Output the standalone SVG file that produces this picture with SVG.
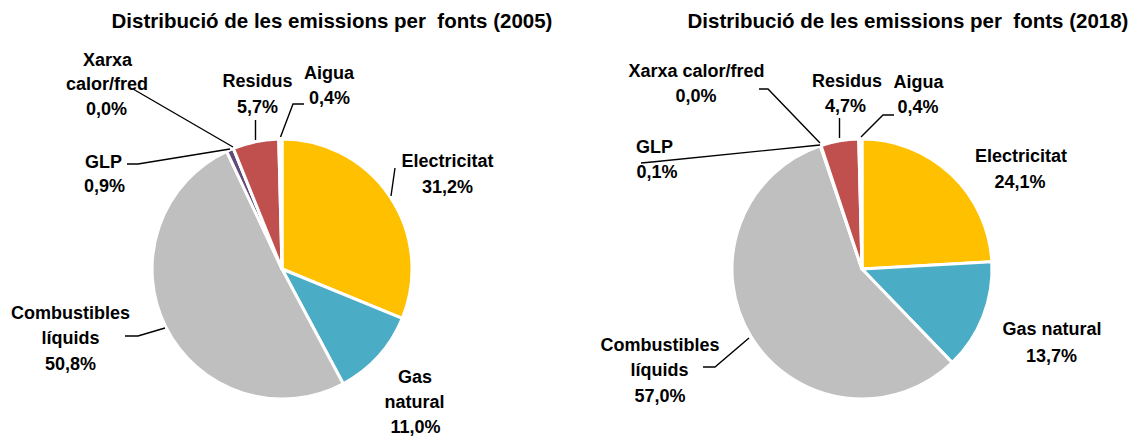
<svg xmlns="http://www.w3.org/2000/svg" width="1139" height="439" viewBox="0 0 1139 439">
  <style>
    text { font-family: "Liberation Sans", Arial, sans-serif; font-weight: bold; fill: #000; text-anchor: middle; }
    .title { font-size: 20.5px; white-space: pre; }
    .lbl { font-size: 18px; }
    .slice { stroke: #fff; stroke-width: 3; stroke-linejoin: round; }
    .elec { fill: #FFC000; }
    .gas { fill: #4BACC6; }
    .comb { fill: #BFBFBF; }
    .glp { fill: #604A7B; }
    .res { fill: #C0504D; }
    .aig { fill: #F2F2F2; }
    .leader { fill: none; stroke: #000; stroke-width: 1.4; }
  </style>
  <rect width="1139" height="439" fill="#fff"/>

  <!-- 2005 chart -->
  <g id="chart-2005">
    <text class="title" x="332" y="28" xml:space="preserve">Distribució de les emissions per  fonts (2005)</text>
    <g id="slice-2005-electricitat">
      <path class="slice elec" d="M282,269 L282,139 A130,130 0 0 1 402.26,318.37 Z"/>
      <text class="lbl" x="447.5" y="167">Electricitat</text>
      <text class="lbl" x="447.5" y="193">31,2%</text>
    </g>
    <g id="slice-2005-gas">
      <path class="slice gas" d="M282,269 L402.26,318.37 A130,130 0 0 1 343.19,383.70 Z"/>
      <text class="lbl" x="415" y="383">Gas</text>
      <text class="lbl" x="414.5" y="408">natural</text>
      <text class="lbl" x="415.5" y="433">11,0%</text>
    </g>
    <g id="slice-2005-combustibles">
      <path class="slice comb" d="M282,269 L343.19,383.70 A130,130 0 1 1 226.65,151.37 Z"/>
      <text class="lbl" x="70.5" y="319">Combustibles</text>
      <text class="lbl" x="70.5" y="344">líquids</text>
      <text class="lbl" x="70.5" y="370">50,8%</text>
    </g>
    <g id="slice-2005-glp">
      <path class="slice glp" d="M282,269 L226.65,151.37 A130,130 0 0 1 233.39,148.43 Z"/>
      <text class="lbl" x="103.5" y="168">GLP</text>
      <text class="lbl" x="104.5" y="192">0,9%</text>
    </g>
    <g id="slice-2005-xarxa">
      <path class="slice" d="M282,269 L233.39,148.43"/>
      <text class="lbl" x="107.5" y="66">Xarxa</text>
      <text class="lbl" x="107" y="90">calor/fred</text>
      <text class="lbl" x="106.5" y="115">0,0%</text>
    </g>
    <g id="slice-2005-residus">
      <path class="slice res" d="M282,269 L233.39,148.43 A130,130 0 0 1 278.73,139.04 Z"/>
      <text class="lbl" x="257.5" y="87">Residus</text>
      <text class="lbl" x="257.5" y="113">5,7%</text>
    </g>
    <g id="slice-2005-aigua">
      <path class="slice aig" d="M282,269 L278.73,139.04 A130,130 0 0 1 282,139 Z"/>
      <text class="lbl" x="329" y="79">Aigua</text>
      <text class="lbl" x="329.5" y="104">0,4%</text>
    </g>
  </g>

  <!-- 2018 chart -->
  <g id="chart-2018">
    <text class="title" x="908" y="28" xml:space="preserve">Distribució de les emissions per  fonts (2018)</text>
    <g id="slice-2018-electricitat">
      <path class="slice elec" d="M862,269 L862,139 A130,130 0 0 1 991.79,261.65 Z"/>
      <text class="lbl" x="1021" y="162">Electricitat</text>
      <text class="lbl" x="1020" y="188">24,1%</text>
    </g>
    <g id="slice-2018-gas">
      <path class="slice gas" d="M862,269 L991.79,261.65 A130,130 0 0 1 952.18,362.64 Z"/>
      <text class="lbl" x="1052" y="335">Gas natural</text>
      <text class="lbl" x="1051.5" y="362">13,7%</text>
    </g>
    <g id="slice-2018-combustibles">
      <path class="slice comb" d="M862,269 L952.18,362.64 A130,130 0 1 1 820.27,145.88 Z"/>
      <text class="lbl" x="660" y="351">Combustibles</text>
      <text class="lbl" x="659.5" y="376">líquids</text>
      <text class="lbl" x="660" y="402">57,0%</text>
    </g>
    <g id="slice-2018-glp">
      <path class="slice glp" d="M862,269 L820.27,145.88 A130,130 0 0 1 821.05,145.62 Z"/>
      <text class="lbl" x="654.5" y="153">GLP</text>
      <text class="lbl" x="657" y="178">0,1%</text>
    </g>
    <g id="slice-2018-xarxa">
      <path class="slice" d="M862,269 L821.05,145.62"/>
      <text class="lbl" x="696.5" y="77">Xarxa calor/fred</text>
      <text class="lbl" x="696" y="102">0,0%</text>
    </g>
    <g id="slice-2018-residus">
      <path class="slice res" d="M862,269 L821.05,145.62 A130,130 0 0 1 858.73,139.04 Z"/>
      <text class="lbl" x="847" y="87">Residus</text>
      <text class="lbl" x="845.5" y="112">4,7%</text>
    </g>
    <g id="slice-2018-aigua">
      <path class="slice aig" d="M862,269 L858.73,139.04 A130,130 0 0 1 862,139 Z"/>
      <text class="lbl" x="918.5" y="88">Aigua</text>
      <text class="lbl" x="918" y="113">0,4%</text>
    </g>
  </g>

  <!-- leader lines -->
  <g id="connectors">
    <path class="leader" d="M395,168 L391,196"/>
    <path class="leader" d="M255.5,120 L255.5,140"/>
    <path class="leader" d="M304,104 L293,104 L280.5,137"/>
    <path class="leader" d="M133,89 L233,147"/>
    <path class="leader" d="M127,164 L138,164 L230,149"/>
    <path class="leader" d="M125,336 L138,336 L165,328"/>
    <path class="leader" d="M759,89 L768,89 L820,143"/>
    <path class="leader" d="M641,163 L652,162 L820,145"/>
    <path class="leader" d="M839.5,118 L839.5,138"/>
    <path class="leader" d="M894,115 L883,115 L861,137"/>
    <path class="leader" d="M703,367 L715,367 L749,338"/>
  </g>
</svg>
